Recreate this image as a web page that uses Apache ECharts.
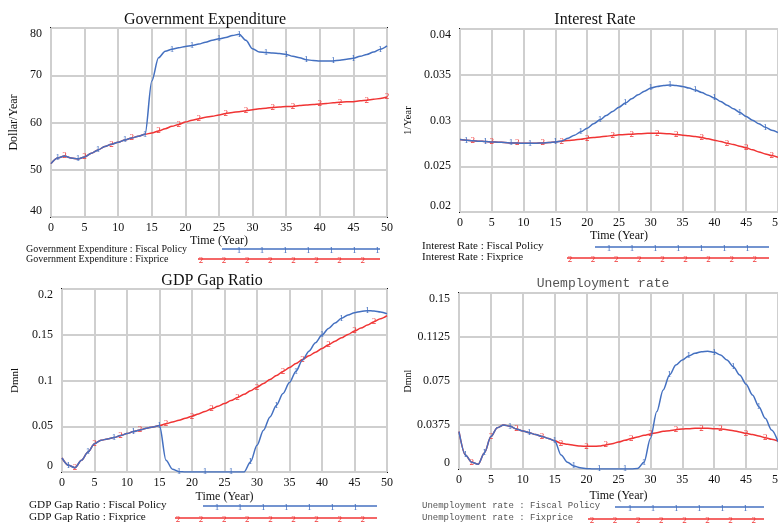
<!DOCTYPE html>
<html><head><meta charset="utf-8">
<script src="https://cdn.jsdelivr.net/npm/echarts@6/dist/echarts.min.js"></script>
<style>html,body{margin:0;padding:0;background:#fff;overflow:hidden}#c{width:778px;height:530px}</style>
</head><body><div id="c"></div>
<script>
const years = [0,1,2,3,4,5,6,7,8,9,10,11,12,13,14,15,16,17,18,19,20,21,22,23,24,25,26,27,28,29,30,31,32,33,34,35,36,37,38,39,40,41,42,43,44,45,46,47,48,49,50];
const xTicks = [0,5,10,15,20,25,30,35,40,45,50];

const geFiscal = [51.3,52.5,52.9,52.5,52.3,52.7,53.5,54.2,54.9,55.4,55.8,56.3,56.7,57.1,57.5,68.8,73.7,75.1,75.5,75.8,76.1,76.3,76.6,77.0,77.4,77.7,78.0,78.4,78.7,77.4,75.6,74.9,74.8,74.7,74.6,74.4,74.0,73.7,73.3,73.1,73.0,73.0,73.0,73.2,73.4,73.6,74.0,74.4,74.9,75.5,76.2];
const geFix = [51.3,52.5,52.9,52.5,52.3,52.7,53.5,54.2,54.9,55.4,55.8,56.3,56.7,57.1,57.5,57.8,58.2,58.7,59.2,59.6,60.1,60.5,60.8,61.1,61.3,61.6,61.9,62.1,62.3,62.5,62.7,62.9,63.0,63.2,63.3,63.4,63.4,63.6,63.7,63.8,63.9,64.0,64.2,64.3,64.4,64.4,64.6,64.7,64.9,65.1,65.4];

const irFiscal = [0.02792,0.02785,0.02778,0.02774,0.0277,0.02766,0.02763,0.0276,0.02755,0.02753,0.02752,0.02752,0.02752,0.02755,0.0276,0.02766,0.02777,0.02807,0.0284,0.02876,0.02916,0.02964,0.03007,0.03055,0.03099,0.03146,0.0319,0.03237,0.03281,0.03321,0.03354,0.03372,0.03383,0.03387,0.03383,0.03372,0.03354,0.03332,0.03307,0.03277,0.03245,0.03208,0.03168,0.03128,0.03088,0.03044,0.03004,0.02964,0.02927,0.02894,0.02869];
const irFix = [0.02792,0.02785,0.02778,0.02774,0.0277,0.02766,0.02763,0.0276,0.02755,0.02753,0.02752,0.02752,0.02752,0.02755,0.0276,0.02766,0.02774,0.02781,0.02788,0.02796,0.02807,0.02814,0.02821,0.02828,0.02836,0.02843,0.02847,0.0285,0.02854,0.02858,0.02861,0.02861,0.02858,0.02854,0.02847,0.0284,0.02832,0.02825,0.02814,0.028,0.02785,0.0277,0.02752,0.02737,0.02719,0.02701,0.02679,0.02657,0.02635,0.02617,0.02599];

const gapFiscal = [0.0153,0.0073,0.0047,0.0128,0.0219,0.031,0.0347,0.0361,0.0376,0.0398,0.042,0.0442,0.046,0.0478,0.0493,0.0507,0.0128,0.003,0.0004,0,0,0,0,0,0,0,0,0,0,0.011,0.0292,0.0456,0.0602,0.073,0.0858,0.0978,0.1102,0.1223,0.1321,0.1412,0.1496,0.1569,0.1628,0.1679,0.1715,0.1741,0.1755,0.1763,0.1759,0.1748,0.173];
const gapFix = [0.0153,0.0073,0.0047,0.0128,0.0219,0.031,0.0347,0.0361,0.0376,0.0398,0.042,0.0442,0.046,0.0478,0.0493,0.0507,0.0526,0.0547,0.0566,0.0588,0.061,0.0635,0.0661,0.069,0.0719,0.0748,0.0781,0.0814,0.085,0.0887,0.0927,0.0967,0.1011,0.1055,0.1099,0.1142,0.1186,0.123,0.127,0.131,0.135,0.139,0.143,0.1467,0.1504,0.154,0.1573,0.1606,0.1642,0.1675,0.1708];

const unFiscal = [0.0318,0.0119,0.0057,0.004,0.0139,0.0276,0.0352,0.0375,0.0364,0.0341,0.0324,0.031,0.0293,0.0278,0.0261,0.0241,0.0119,0.0057,0.0026,0.0011,0.0003,0,0,0,0,0,0,0,0.0005,0.0057,0.0261,0.0489,0.0673,0.0801,0.0886,0.0929,0.0963,0.0986,0.1,0.1003,0.0994,0.0972,0.0929,0.0872,0.0801,0.0722,0.0631,0.0531,0.0432,0.0332,0.0233];
const unFix = [0.0318,0.0119,0.0057,0.004,0.0139,0.0276,0.0352,0.0375,0.0364,0.0341,0.0324,0.031,0.0293,0.0278,0.0261,0.0241,0.0219,0.021,0.0202,0.0196,0.0193,0.0193,0.0196,0.0205,0.0216,0.023,0.0244,0.0259,0.0273,0.0287,0.0298,0.031,0.0321,0.0327,0.0335,0.0341,0.0344,0.0347,0.0347,0.0347,0.0344,0.0341,0.0335,0.0327,0.0315,0.0304,0.0293,0.0281,0.0267,0.0253,0.0239];

const titles = ['Government Expenditure','Interest Rate','GDP Gap Ratio','Unemployment rate'];
const units = ['Dollar/Year','1/Year','Dmnl','Dmnl'];
const legendNames = [
  ['Government Expenditure : Fiscal Policy','Government Expenditure : Fixprice'],
  ['Interest Rate : Fiscal Policy','Interest Rate : Fixprice'],
  ['GDP Gap Ratio : Fiscal Policy','GDP Gap Ratio : Fixprice'],
  ['Unemployment rate : Fiscal Policy','Unemployment rate : Fixprice']
];
const yMin = [40,0.02,0,0];
const yMax = [80,0.04,0.2,0.15];
const yStep = [10,0.005,0.05,0.0375];
const markYears = [
  [[1,4,7,11,14,18,21,25,28,32,35,38,42,45,49],[2,5,9,12,16,19,22,26,29,33,36,40,43,47,50]],
  [[1,4,8,11,15,19,22,26,30,33,37,40,44,48],[2,5,9,13,16,20,24,27,31,34,38,42,45,49]],
  [[1,4,8,11,15,18,22,26,29,33,36,40,43,47],[2,5,9,12,16,20,23,27,30,34,37,41,45,48]],
  [[1,4,8,11,15,18,22,26,29,33,36,40,43,47],[2,5,9,13,16,20,23,27,30,34,38,41,45,48]]
];
const seriesVals = [[geFiscal,geFix],[irFiscal,irFix],[gapFiscal,gapFix],[unFiscal,unFix]];

const BLUE = '#4470c0', RED = '#f03434';
const SERIF = '"Liberation Serif","Times New Roman",serif';
const MONO = '"Liberation Mono","DejaVu Sans Mono",monospace';

const grids = [
  {left:51, top:28, width:336, height:189},
  {left:460, top:29, width:318, height:183},
  {left:62, top:289, width:325, height:183},
  {left:459, top:293, width:319, height:176}
];
const yNameGap = [31,46,41,45];
const yNameSize = [12,11,11,10];
const xNameGap = [18,17,19,21];
const titlePos = [[200,15],[590,15],[207,276],[598,279]];

const option = {
  animation:false,
  backgroundColor:'#fff',
  title: titles.map((t,i)=>({
    text:t, left:titlePos[i][0], top:titlePos[i][1], textAlign:'center', textVerticalAlign:'middle',
    textStyle:{fontFamily: i===3?MONO:SERIF, fontSize: i===3?13:16, fontWeight:'normal', color: i===3?'#555':'#111'}
  })),
  grid: grids.map(g=>Object.assign({show:true, borderColor:'#111', borderWidth:2, backgroundColor:'transparent',
    containLabel:false, outerBoundsMode:'none'}, g)),
  xAxis: grids.map((g,i)=>({
    type:'value', gridIndex:i, min:0, max:50, interval:5,
    name:'Time (Year)', nameLocation:'middle', nameGap:xNameGap[i],
    nameTextStyle:{fontFamily:SERIF, fontSize:12, color:'#111'},
    axisLine:{show:false}, axisTick:{show:false},
    axisLabel:{fontFamily:SERIF, fontSize:12, color:'#111', margin:5, showMaxLabel:true, hideOverlap:false,
      formatter:v=> xTicks.indexOf(v)>=0 ? String(v) : ''},
    splitLine:{show:true, lineStyle:{color:'#cfcfcf', width:2}}
  })),
  yAxis: grids.map((g,i)=>({
    type:'value', gridIndex:i, min:yMin[i], max:yMax[i], interval:yStep[i],
    name:units[i], nameLocation:'middle', nameGap:yNameGap[i], nameRotate:90,
    nameTextStyle:{fontFamily:SERIF, fontSize:yNameSize[i], color:'#111'},
    axisLine:{show:false}, axisTick:{show:false},
    axisLabel:{fontFamily:SERIF, fontSize:12, color:'#111', margin:9,
      verticalAlignMaxLabel:'top', verticalAlignMinLabel:'bottom',
      formatter:v=>String(+v.toFixed(4))},
    splitLine:{show:true, lineStyle:{color:'#cfcfcf', width:2}}
  })),
  series: []
};

for (let i=0;i<4;i++){
  for (let s=0;s<2;s++){
    const vals = seriesVals[i][s];
    const marks = markYears[i][s];
    const col = s===0?BLUE:RED;
    option.series.push({
      type:'line', name:legendNames[i][s], xAxisIndex:i, yAxisIndex:i,
      smooth:0.3, smoothMonotone:'x', showSymbol:true, showAllSymbol:true,
      symbol:'circle', symbolSize:0.1,
      lineStyle:{color:col, width:1.5}, itemStyle:{color:col},
      z: s===0?3:2,
      data: years.map((t,k)=>{
        const d = {value:[t, vals[k]]};
        if (marks.indexOf(t)>=0){
          d.label = {show:true, position:'inside', offset:[0,2], formatter: s===0?'1':'2',
            color:col, fontSize:9, fontFamily:SERIF};
        }
        return d;
      }),
      labelLayout:{hideOverlap:false}
    });
  }
}

// legends drawn as graphics (Vensim style: text left, line sample right)
const legendText = [[26,250,260],[422,247,258],[29,506,518],[422,507,519]];
const legendFont = [[SERIF,10,'#111'],[SERIF,11,'#111'],[SERIF,11.2,'#111'],[MONO,9,'#555']];
const legLines = [
  [[222,380,249],[198,380,259]],
  [[595,769,247],[567,769,258]],
  [[203,377,506],[175,377,518]],
  [[615,764,507],[588,764,519]]
];
const legMarkStart = [[239,201],[609,570],[217,178],[630,592]];
const legMarkCount = [[7,8],[7,9],[7,9],[6,8]];
const graphics = [];
for (let i=0;i<4;i++){
  for (let s=0;s<2;s++){
    const col = s===0?BLUE:RED;
    graphics.push({type:'text', left:legendText[i][0], top:legendText[i][s+1]-legendFont[i][1]*0.6,
      style:{text:legendNames[i][s], font:`${legendFont[i][1]}px ${legendFont[i][0]}`, fill:legendFont[i][2]}});
    const L = legLines[i][s];
    graphics.push({type:'line', shape:{x1:L[0], y1:L[2], x2:L[1], y2:L[2]}, style:{stroke:col, lineWidth:1.5}});
    for (let k=0;k<legMarkCount[i][s];k++){
      graphics.push({type:'text', x:legMarkStart[i][s]+k*23.1, y:L[2]+2,
        style:{text: s===0?'1':'2', font:`9px ${SERIF}`, fill:col, align:'center', verticalAlign:'middle'}});
    }
  }
}
option.graphic = graphics;

const chart = echarts.init(document.getElementById('c'), null, {renderer:'canvas'});
chart.setOption(option);
</script>
</body></html>
